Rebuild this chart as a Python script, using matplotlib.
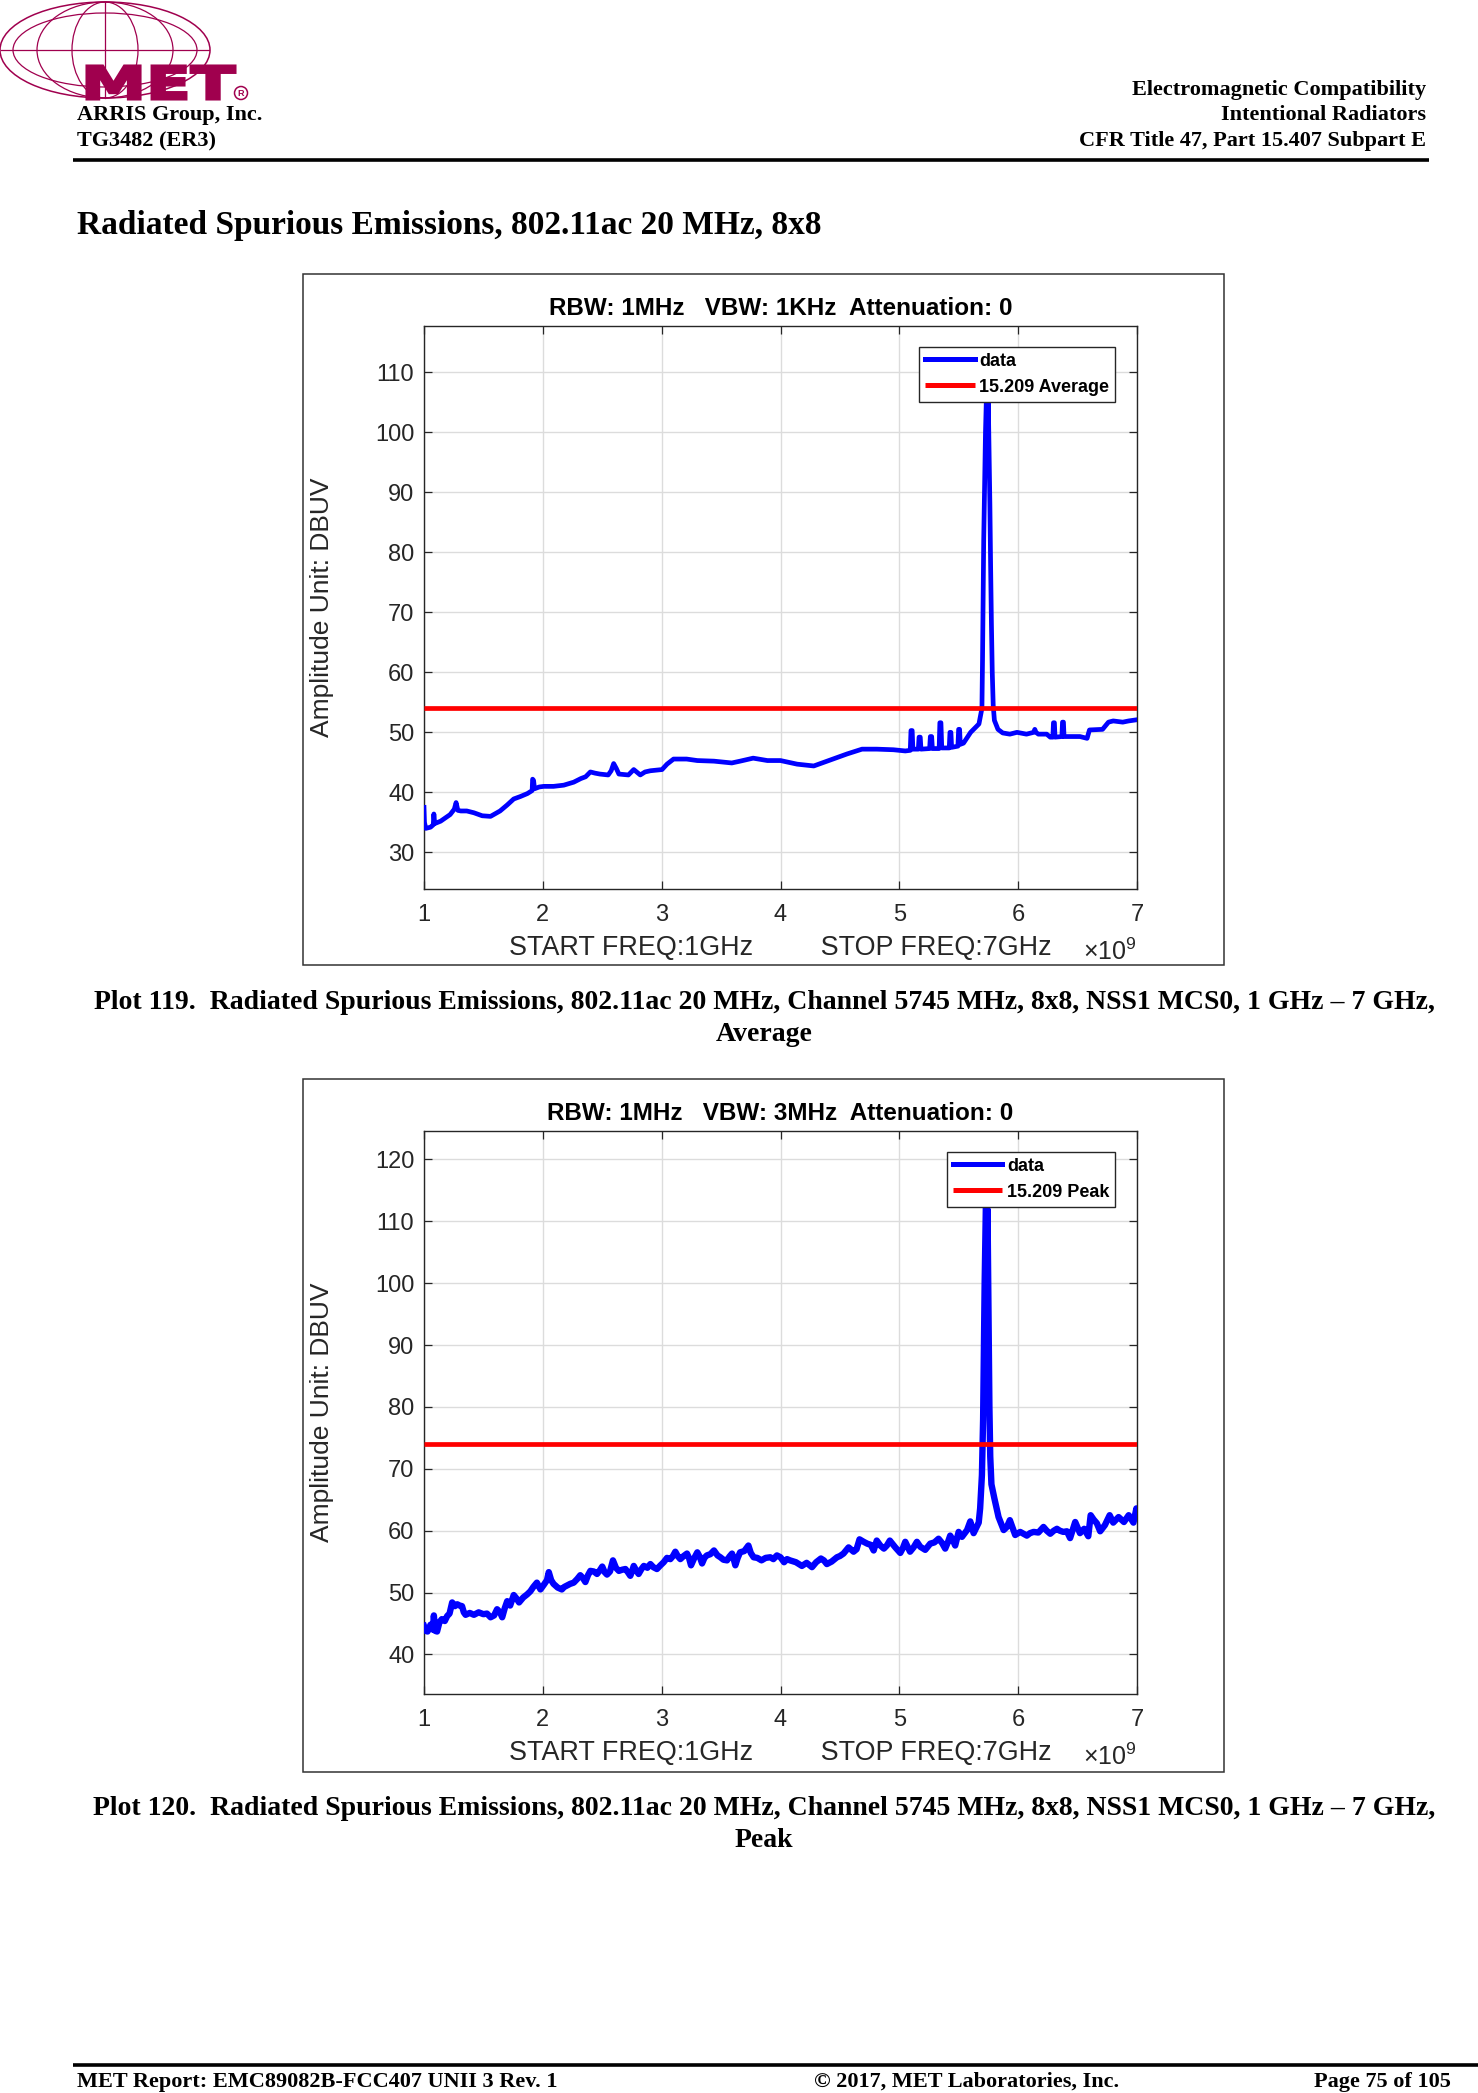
import matplotlib
matplotlib.use('Agg')
import matplotlib.pyplot as plt
from matplotlib.patches import Ellipse, Rectangle, Circle, PathPatch
from matplotlib.textpath import TextPath
from matplotlib.font_manager import FontProperties
from matplotlib.transforms import Affine2D

plt.rcParams['mathtext.fontset'] = 'custom'
plt.rcParams['mathtext.rm'] = 'Liberation Sans'

# ---------------- data (frequency in GHz, level in dBuV) ----------------
avg_freq = [
    1.000, 1.004, 1.015, 1.055, 1.078, 1.083, 1.090, 1.140, 1.220, 1.255,
    1.270, 1.285, 1.310, 1.360, 1.420, 1.490, 1.560, 1.640, 1.700, 1.755,
    1.810, 1.870, 1.910, 1.914, 1.922, 1.930, 1.970, 2.008, 2.090, 2.176,
    2.260, 2.320, 2.360, 2.400, 2.440, 2.480, 2.550, 2.575, 2.596, 2.618,
    2.640, 2.720, 2.765, 2.820, 2.860, 2.905, 3.003, 3.045, 3.100, 3.210,
    3.300, 3.440, 3.590, 3.660, 3.770, 3.890, 4.000, 4.140, 4.280, 4.420,
    4.560, 4.686, 4.810, 4.950, 5.050, 5.092, 5.098, 5.108, 5.114, 5.160,
    5.166, 5.176, 5.182, 5.255, 5.261, 5.272, 5.278, 5.335, 5.341, 5.350,
    5.357, 5.420, 5.426, 5.434, 5.440, 5.493, 5.499, 5.507, 5.513, 5.540,
    5.600, 5.640, 5.670, 5.695, 5.700, 5.705, 5.710, 5.718, 5.725, 5.735,
    5.742, 5.748, 5.755, 5.762, 5.768, 5.775, 5.782, 5.790, 5.800, 5.830,
    5.870, 5.930, 5.990, 6.070, 6.130, 6.140, 6.150, 6.170, 6.240, 6.270,
    6.292, 6.297, 6.305, 6.310, 6.368, 6.373, 6.381, 6.386, 6.520, 6.580,
    6.600, 6.710, 6.760, 6.800, 6.880, 6.930, 7.000,
]
avg_level = [
    37.5, 35.0, 34.0, 34.2, 34.6, 36.4, 34.8, 35.2, 36.3, 37.2,
    38.3, 37.0, 36.9, 36.9, 36.6, 36.1, 36.0, 36.9, 37.9, 38.9,
    39.3, 39.8, 40.3, 42.2, 42.0, 40.6, 40.9, 41.0, 41.0, 41.2,
    41.7, 42.3, 42.6, 43.4, 43.2, 43.05, 42.9, 43.6, 44.8, 44.0,
    43.05, 42.9, 43.8, 42.9, 43.4, 43.6, 43.8, 44.7, 45.55, 45.55,
    45.3, 45.2, 44.9, 45.2, 45.7, 45.3, 45.3, 44.7, 44.4, 45.4,
    46.4, 47.2, 47.2, 47.1, 46.9, 47.0, 50.3, 50.3, 47.2, 47.2,
    49.2, 49.2, 47.2, 47.3, 49.3, 49.3, 47.3, 47.3, 51.6, 51.6,
    47.4, 47.4, 50.0, 50.0, 47.5, 47.7, 50.5, 50.5, 48.0, 48.2,
    50.0, 50.8, 51.4, 54.0, 62.0, 72.0, 82.0, 92.0, 100.0, 107.7,
    100.0, 106.0, 97.0, 88.0, 78.0, 68.0, 60.0, 54.5, 52.0, 50.5,
    49.9, 49.7, 50.0, 49.7, 50.0, 50.5, 50.0, 49.7, 49.7, 49.2,
    49.2, 51.6, 51.6, 49.2, 49.3, 51.7, 51.7, 49.3, 49.3, 49.0,
    50.4, 50.5, 51.7, 51.9, 51.7, 51.9, 52.1,
]

peak_freq = [
    1.000, 1.015, 1.030, 1.055, 1.075, 1.083, 1.095, 1.110, 1.130, 1.150,
    1.175, 1.195, 1.215, 1.237, 1.260, 1.280, 1.300, 1.320, 1.335, 1.350,
    1.385, 1.420, 1.460, 1.500, 1.530, 1.560, 1.590, 1.615, 1.640, 1.658,
    1.680, 1.700, 1.725, 1.755, 1.780, 1.800, 1.835, 1.868, 1.895, 1.920,
    1.950, 1.980, 2.010, 2.035, 2.050, 2.070, 2.090, 2.125, 2.160, 2.180,
    2.200, 2.230, 2.260, 2.290, 2.315, 2.335, 2.358, 2.380, 2.400, 2.430,
    2.456, 2.480, 2.500, 2.520, 2.540, 2.565, 2.590, 2.615, 2.640, 2.670,
    2.695, 2.715, 2.736, 2.750, 2.765, 2.785, 2.806, 2.830, 2.850, 2.880,
    2.905, 2.930, 2.960, 2.990, 3.017, 3.045, 3.073, 3.095, 3.115, 3.135,
    3.157, 3.185, 3.213, 3.230, 3.247, 3.275, 3.300, 3.320, 3.340, 3.360,
    3.380, 3.410, 3.440, 3.470, 3.494, 3.520, 3.550, 3.570, 3.592, 3.605,
    3.620, 3.640, 3.660, 3.695, 3.730, 3.750, 3.774, 3.805, 3.840, 3.875,
    3.914, 3.940, 3.970, 4.000, 4.030, 4.055, 4.080, 4.130, 4.180, 4.220,
    4.265, 4.300, 4.340, 4.365, 4.390, 4.430, 4.475, 4.500, 4.530, 4.573,
    4.615, 4.640, 4.665, 4.700, 4.730, 4.760, 4.784, 4.810, 4.840, 4.870,
    4.895, 4.920, 4.945, 4.966, 5.008, 5.030, 5.050, 5.070, 5.090, 5.120,
    5.148, 5.176, 5.218, 5.260, 5.295, 5.330, 5.360, 5.386, 5.410, 5.428,
    5.450, 5.470, 5.499, 5.527, 5.550, 5.570, 5.597, 5.625, 5.650, 5.668,
    5.680, 5.695, 5.705, 5.712, 5.718, 5.725, 5.730, 5.737, 5.742, 5.748,
    5.753, 5.758, 5.765, 5.775, 5.800, 5.835, 5.878, 5.905, 5.930, 5.975,
    6.017, 6.045, 6.073, 6.100, 6.130, 6.170, 6.213, 6.240, 6.270, 6.300,
    6.326, 6.350, 6.380, 6.410, 6.437, 6.480, 6.520, 6.555, 6.590, 6.610,
    6.635, 6.662, 6.690, 6.730, 6.770, 6.800, 6.845, 6.890, 6.930, 6.970,
    6.995, 7.000,
]
peak_level = [
    44.6, 43.8, 43.7, 44.8, 44.0, 46.3, 43.8, 43.7, 45.2, 45.7,
    45.4, 46.2, 46.6, 48.4, 47.8, 48.1, 47.9, 47.8, 46.8, 46.4,
    46.7, 46.4, 46.8, 46.5, 46.6, 46.0, 46.3, 47.3, 46.8, 46.0,
    47.5, 48.6, 47.9, 49.6, 49.0, 48.4, 49.2, 49.7, 50.2, 50.9,
    51.6, 50.5, 51.3, 52.0, 53.3, 52.0, 51.4, 50.8, 50.5, 50.9,
    51.1, 51.4, 51.6, 52.2, 52.8, 52.4, 51.7, 52.8, 53.5, 53.4,
    53.0, 53.6, 54.2, 53.3, 52.9, 53.4, 55.2, 54.0, 53.5, 53.7,
    53.8, 53.3, 52.7, 53.4, 54.3, 53.6, 53.0, 53.8, 54.3, 54.0,
    54.6, 54.1, 53.8, 54.4, 54.9, 55.6, 55.4, 55.9, 56.6, 55.9,
    55.4, 55.9, 56.3, 55.6, 54.4, 55.6, 56.5, 55.8, 54.7, 55.6,
    56.0, 56.2, 56.8, 56.0, 55.7, 55.3, 55.2, 55.8, 56.3, 55.5,
    54.4, 55.6, 56.5, 56.7, 57.6, 56.4, 55.7, 55.6, 55.2, 55.6,
    55.7, 55.4, 56.0, 55.7, 54.9, 55.4, 55.2, 54.9, 54.3, 54.8,
    54.1, 54.9, 55.5, 55.2, 54.6, 55.0, 55.7, 55.9, 56.3, 57.3,
    56.6, 57.0, 58.6, 58.2, 57.9, 57.7, 56.8, 58.4, 57.6, 57.1,
    57.6, 58.4, 57.8, 57.3, 56.4, 57.2, 58.2, 57.4, 56.6, 57.3,
    58.2, 57.4, 56.9, 57.9, 58.1, 58.7, 58.0, 57.1, 58.2, 59.2,
    58.5, 57.6, 59.8, 59.0, 59.6, 60.1, 61.5, 59.6, 60.6, 61.3,
    63.6, 69.0, 78.0, 90.0, 100.0, 108.0, 114.6, 106.0, 112.0, 100.0,
    90.0, 80.0, 72.0, 67.5, 65.2, 62.2, 60.1, 60.6, 61.7, 59.3,
    59.8, 59.5, 59.2, 59.6, 59.8, 59.7, 60.6, 60.0, 59.5, 60.0,
    60.3, 60.0, 59.8, 59.9, 58.8, 61.4, 59.6, 60.3, 59.1, 62.5,
    61.8, 61.2, 59.9, 60.9, 62.5, 61.3, 62.2, 61.4, 62.5, 61.3,
    63.6, 62.5,
]

avg_limit = 54.0
peak_limit = 74.0
x_ticks = [1, 2, 3, 4, 5, 6, 7]
avg_yticks = [30, 40, 50, 60, 70, 80, 90, 100, 110]
peak_yticks = [40, 50, 60, 70, 80, 90, 100, 110, 120]
avg_title = 'RBW: 1MHz   VBW: 1KHz  Attenuation: 0'
peak_title = 'RBW: 1MHz   VBW: 3MHz  Attenuation: 0'
x_label = 'START FREQ:1GHz         STOP FREQ:7GHz'
y_label = 'Amplitude Unit: DBUV'

assert len(avg_freq) == len(avg_level)
assert len(peak_freq) == len(peak_level)

# ---------------- page ----------------
W, H = 1478, 2093
fig = plt.figure(figsize=(W / 100, H / 100), dpi=100)
page = fig.add_axes([0, 0, 1, 1], zorder=0)
page.set_xlim(0, W)
page.set_ylim(H, 0)
page.axis('off')

SERIF = 'Liberation Serif'
SANS = 'Liberation Sans'
MAROON = '#A0004E'

# logo: globe
page.add_patch(Ellipse((105, 50), 210, 96, fill=False, ec=MAROON, lw=1.1))
for w in (136, 66):
    page.add_patch(Ellipse((105, 50), w, 96, fill=False, ec=MAROON, lw=0.9))
page.add_patch(Ellipse((105, 50), 184, 74, fill=False, ec=MAROON, lw=0.9))
page.plot([1, 209], [50, 50], color=MAROON, lw=0.9)
page.plot([105, 105], [2, 98], color=MAROON, lw=0.9)
# logo: MET letters
fp = FontProperties(family='DejaVu Sans', weight='bold')
tp = TextPath((0, 0), 'MET', size=100, prop=fp)
bb = tp.get_extents()
tr = (Affine2D().translate(-bb.x0, -bb.y0)
      .scale((235 - 87) / bb.width, -(99 - 66) / bb.height)
      .translate(87, 99))
page.add_patch(PathPatch(tr.transform_path(tp), fc=MAROON, ec=MAROON, lw=2.2,
                         joinstyle='miter', zorder=3))
page.add_patch(Circle((241, 93), 6.5, fill=False, ec=MAROON, lw=1.1, zorder=3))
page.text(241, 93.5, 'R', fontsize=6.5, fontweight='bold', color=MAROON,
          ha='center', va='center', family=SANS, zorder=3)

hdr = dict(family=SERIF, fontweight='bold', fontsize=16.0, color='black')
page.text(77, 120, 'ARRIS Group, Inc.', ha='left', va='baseline', **hdr)
page.text(77, 146, 'TG3482 (ER3)', ha='left', va='baseline', **hdr)
page.text(1426, 95, 'Electromagnetic Compatibility', ha='right', va='baseline', **hdr)
page.text(1426, 120, 'Intentional Radiators', ha='right', va='baseline', **hdr)
page.text(1426, 146, 'CFR Title 47, Part 15.407 Subpart E', ha='right', va='baseline', **hdr)
page.plot([73, 1429], [160, 160], color='black', lw=2.6, solid_capstyle='butt')

page.text(77, 234, 'Radiated Spurious Emissions, 802.11ac 20 MHz, 8x8', family=SERIF,
          fontweight='bold', fontsize=24, ha='left', va='baseline')

cap = dict(family=SERIF, fontweight='bold', fontsize=20.0, ha='center', va='baseline')
page.text(764, 1009, 'Plot 119.  Radiated Spurious Emissions, 802.11ac 20 MHz, Channel 5745 MHz, '
          '8x8, NSS1 MCS0, 1 GHz \u2013 7 GHz,', **cap)
page.text(764, 1041, 'Average', **cap)
page.text(764, 1815, 'Plot 120.  Radiated Spurious Emissions, 802.11ac 20 MHz, Channel 5745 MHz, '
          '8x8, NSS1 MCS0, 1 GHz \u2013 7 GHz,', **cap)
page.text(764, 1847, 'Peak', **cap)

page.plot([73, 1478], [2065, 2065], color='black', lw=2.6, solid_capstyle='butt')
page.text(77, 2087, 'MET Report: EMC89082B-FCC407 UNII 3 Rev. 1', ha='left', va='baseline', **hdr)
page.text(967, 2087, '\u00a9 2017, MET Laboratories, Inc.', ha='center', va='baseline', **hdr)
page.text(1451, 2087, 'Page 75 of 105', ha='right', va='baseline', **hdr)

# outer frames of the two plot images
page.add_patch(Rectangle((303, 274), 921, 691, fill=False, ec='#333333', lw=1.1))
page.add_patch(Rectangle((303, 1079), 921, 693, fill=False, ec='#333333', lw=1.1))


def panel(l, t, r, b, freq, level, lw, limit, limit_label, ylim, yticks, title):
    pw, ph = r - l, b - t
    ax = fig.add_axes([l / W, 1 - b / H, pw / W, ph / H], zorder=2)
    ax.set_facecolor('white')
    ax.plot(freq, level, color='#0000FF', lw=lw, label='data', zorder=3)
    ax.plot([x_ticks[0], x_ticks[-1]], [limit, limit], color='#FF0000', lw=3.4,
            label=limit_label, zorder=4, solid_capstyle='butt')
    ax.set_xlim(x_ticks[0], x_ticks[-1])
    ax.set_ylim(*ylim)
    ax.set_xticks(x_ticks)
    ax.set_yticks(yticks)
    ax.grid(True, color='#dcdcdc', lw=1.0)
    ax.set_axisbelow(True)
    ax.tick_params(direction='in', length=5.5, width=0.9, top=True, right=True,
                   color='#262626', labelcolor='#262626', labelsize=17)
    ax.tick_params(axis='x', pad=11)
    ax.tick_params(axis='y', pad=7)
    for lab in ax.get_xticklabels() + ax.get_yticklabels():
        lab.set_family(SANS)
    for s in ax.spines.values():
        s.set_color('#262626')
        s.set_linewidth(1.0)
    ax.set_title(title, family=SANS, fontsize=17.5, fontweight='bold', pad=8, color='black')
    ax.set_xlabel(x_label, family=SANS, fontsize=19.4, color='#262626')
    ax.xaxis.set_label_coords(0.5, -59.0 / ph)
    ax.xaxis.label.set_verticalalignment('center')
    ax.set_ylabel(y_label, family=SANS, fontsize=19, color='#262626')
    ax.yaxis.set_label_coords(-102.0 / pw, 0.5)
    ax.yaxis.label.set_verticalalignment('center')
    ax.text(1.0, -63.0 / ph, r'$\times10^{9}$', transform=ax.transAxes,
            ha='right', va='center', fontsize=18, color='#262626')
    leg = ax.legend(loc='upper right',
                    bbox_to_anchor=((1115 - l) / pw, 1 - 21.0 / ph),
                    borderaxespad=0, fancybox=False, framealpha=1, edgecolor='#262626',
                    prop=FontProperties(family=SANS, weight='bold', size=13),
                    handlelength=2.75, handletextpad=0.25, labelspacing=0.5,
                    borderpad=0.32)
    leg.get_frame().set_linewidth(1.0)
    for hl in leg.get_lines():
        hl.set_linewidth(3.6)
    leg.set_zorder(10)
    return ax


ax1 = panel(424, 326, 1137, 889, avg_freq, avg_level, 3.4, avg_limit, '15.209 Average',
            (23.9, 117.7), avg_yticks, avg_title)
ax2 = panel(424, 1131, 1137, 1694, peak_freq, peak_level, 4.6, peak_limit, '15.209 Peak',
            (33.6, 124.6), peak_yticks, peak_title)

fig.savefig('out.png', dpi=100)
